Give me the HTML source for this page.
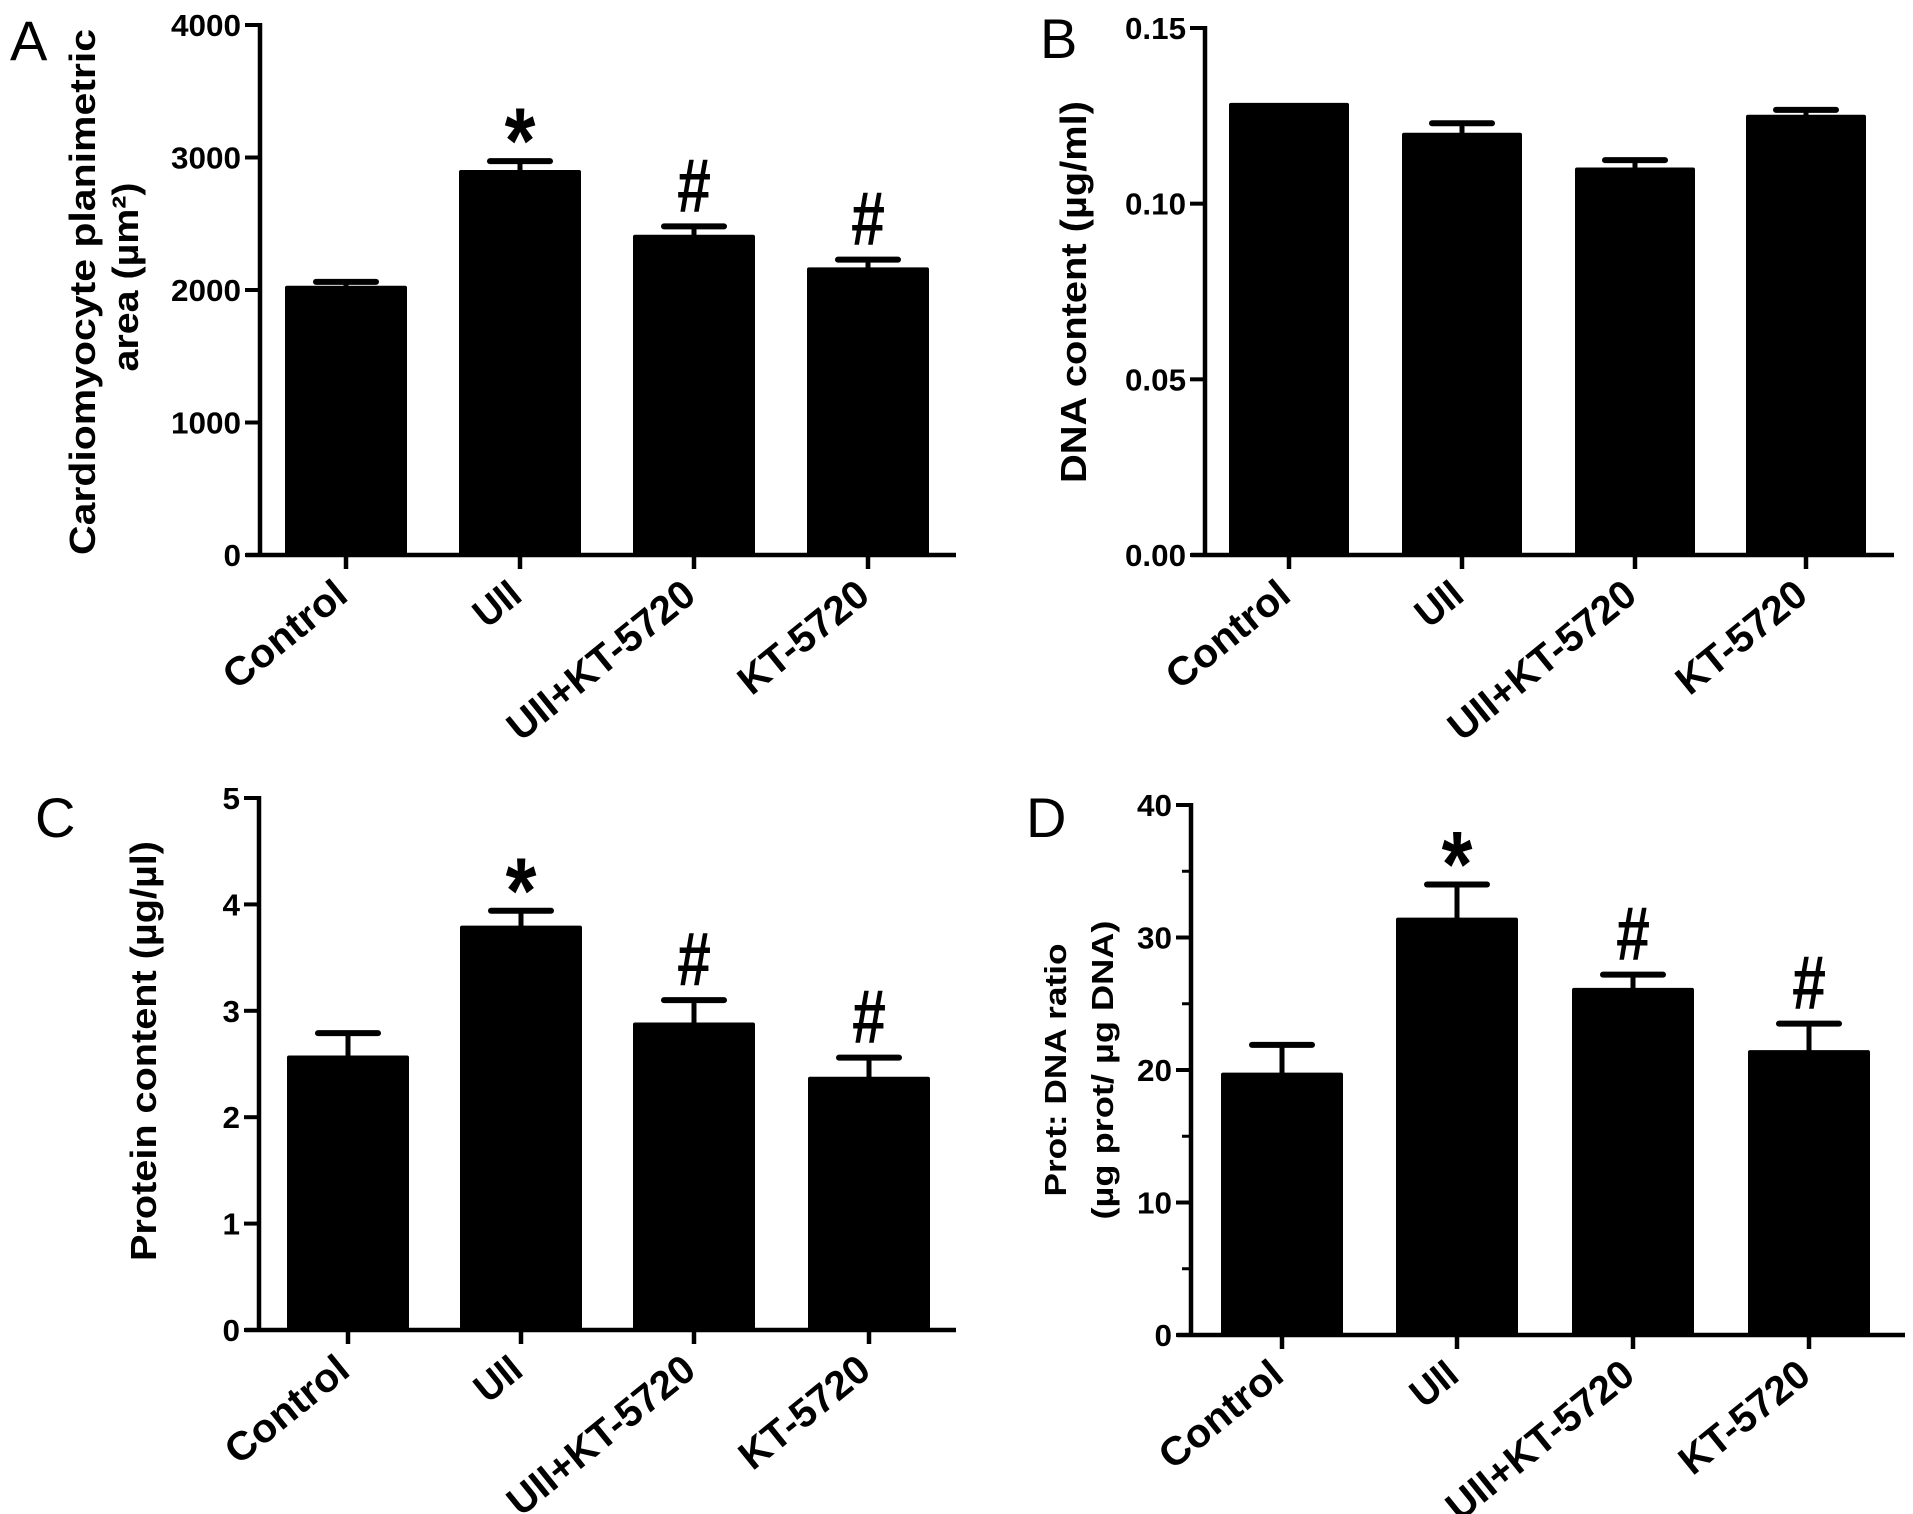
<!DOCTYPE html>
<html><head><meta charset="utf-8"><style>
html,body{margin:0;padding:0;background:#fff;}
svg{display:block;}
text{font-family:"Liberation Sans",Arial,Helvetica,sans-serif;fill:#000;}
</style></head><body>
<svg id="fig" xmlns="http://www.w3.org/2000/svg" width="1913" height="1514" viewBox="0 0 1913 1514" font-family="Liberation Sans, Arial, sans-serif"></svg>
<script>
const categories = ["Control", "UII", "UII+KT-5720", "KT-5720"];
const labelLengths = [146, 48, 228, 155];
const valuesA = [2032, 2906, 2417, 2171];
const errorsA = [29, 67, 63, 58];
const marksA = ["", "*", "#", "#"];
const ticksA = [0, 1000, 2000, 3000, 4000];
const tickLabelsA = ["0", "1000", "2000", "3000", "4000"];
const valuesB = [0.1287, 0.1202, 0.1103, 0.1253];
const errorsB = [0, 0.0027, 0.0021, 0.0014];
const marksB = ["", "", "", ""];
const ticksB = [0, 0.05, 0.10, 0.15];
const tickLabelsB = ["0.00", "0.05", "0.10", "0.15"];
const valuesC = [2.58, 3.80, 2.89, 2.38];
const errorsC = [0.21, 0.14, 0.21, 0.18];
const marksC = ["", "*", "#", "#"];
const ticksC = [0, 1, 2, 3, 4, 5];
const tickLabelsC = ["0", "1", "2", "3", "4", "5"];
const valuesD = [19.8, 31.5, 26.2, 21.5];
const errorsD = [2.1, 2.5, 1.0, 2.0];
const marksD = ["", "*", "#", "#"];
const ticksD = [0, 10, 20, 30, 40];
const tickLabelsD = ["0", "10", "20", "30", "40"];
const minorTicksD = [5, 15, 25, 35];

const NS = "http://www.w3.org/2000/svg";
const svg = document.getElementById("fig");
function mk(tag, attrs, parent){
  const e = document.createElementNS(NS, tag);
  for (const k in attrs) e.setAttribute(k, attrs[k]);
  (parent || svg).appendChild(e);
  return e;
}

function panel(cfg){
  const g = mk("g", {});
  
  
  const yScale = v => cfg.y0 - (v / cfg.max) * (cfg.y0 - cfg.yTop);
  const ax = cfg.axisX;
  const L = mk("text", {x: cfg.letterX, y: cfg.letterY, "font-size": 56}, g);
  L.textContent = cfg.id.toUpperCase();
  
  
  cfg.values.forEach((v, i) => {
    const cx = cfg.ticksX[i];
    const bw = cfg.barW;
    const top = yScale(v);
    const bar = mk("rect", {x: cx - bw/2, y: top, width: bw, height: cfg.y0 - top, fill: "#000", rx: 2}, g);
    
    
    const e = cfg.errors[i];
    const et = yScale(v + e);
    if (e > 0) {
      const eg = mk("g", {stroke: "#000", "stroke-linecap": "round"}, g);
      
      
      mk("line", {x1: cx, x2: cx, y1: top, y2: et, "stroke-width": 5}, eg);
      mk("line", {x1: cx - 30, x2: cx + 30, y1: et, y2: et, "stroke-width": 6}, eg);
    }
    const m = cfg.marks[i];
    if (m === "*") {
      const t = mk("text", {transform: `translate(${cx},${et + 12}) scale(1.1,1.3)`, "text-anchor": "middle", "font-size": 72, "font-weight": "bold"}, g);
      t.textContent = "*";
      
      
    } else if (m === "#") {
      const t = mk("text", {transform: `translate(${cx},${et - 15}) scale(0.8,1)`, "text-anchor": "middle", "font-size": 76, "font-weight": "bold"}, g);
      t.textContent = "#";
      
      
    }
  });
  const ya = mk("line", {x1: ax, x2: ax, y1: cfg.yTop - 2, y2: cfg.y0, stroke: "#000", "stroke-width": 4.5}, g);
  
  
  const xa = mk("line", {x1: cfg.axisX - 14, x2: cfg.xEnd, y1: cfg.y0, y2: cfg.y0, stroke: "#000", "stroke-width": 4.5}, g);
  
  
  cfg.ticks.forEach((t, i) => {
    const y = yScale(t);
    mk("line", {x1: cfg.axisX - 15, x2: ax, y1: y, y2: y, stroke: "#000", "stroke-width": 4}, g);
    const lab = mk("text", {x: cfg.axisX - 19, y: y + 11, "text-anchor": "end", "font-size": 31, "font-weight": "bold", textLength: cfg.tickLabels[i].length * 17.5 + (cfg.tickLabels[i].indexOf('.') >= 0 ? -9 : 0), lengthAdjust: "spacingAndGlyphs"}, g);
    lab.textContent = cfg.tickLabels[i];
    
    
  });
  (cfg.minor || []).forEach(t => {
    const y = yScale(t);
    mk("line", {x1: cfg.axisX - 9, x2: ax, y1: y, y2: y, stroke: "#000", "stroke-width": 3}, g);
  });
  categories.forEach((c, i) => {
    const cx = cfg.ticksX[i];
    mk("line", {x1: cx, x2: cx, y1: cfg.y0, y2: cfg.y0 + 14, stroke: "#000", "stroke-width": 4.5}, g);
    const lab = mk("text", {transform: `translate(${cx + 4},${cfg.y0 + 44}) rotate(-39)`, "text-anchor": "end", "font-size": 40, "font-weight": "bold", textLength: labelLengths[i], lengthAdjust: "spacingAndGlyphs"}, g);
    lab.textContent = c;
    
    
  });
  cfg.titles.forEach((tt, j) => {
    const t = mk("text", {transform: `translate(${tt.x},${tt.cy}) rotate(-90)`, "text-anchor": "middle", "font-size": tt.size, "font-weight": "bold", textLength: tt.len, lengthAdjust: "spacingAndGlyphs"}, g);
    t.textContent = tt.text;
    
    
  });
}

panel({id: "a", letterX: 10, letterY: 60, axisX: 260, y0: 555, yTop: 25, max: 4000, xEnd: 956,
  ticksX: [346, 520, 694, 868], barW: 122, values: valuesA, errors: errorsA, marks: marksA,
  ticks: ticksA, tickLabels: tickLabelsA,
  titles: [{text: "Cardiomyocyte  planimetric", x: 95, cy: 292, len: 526, size: 36},
           {text: "area (µm²)", x: 138, cy: 277, len: 189, size: 36}]});
panel({id: "b", letterX: 1040, letterY: 58, axisX: 1205, y0: 555, yTop: 28, max: 0.15, xEnd: 1894,
  ticksX: [1289, 1462, 1635, 1806], barW: 120, values: valuesB, errors: errorsB, marks: marksB,
  ticks: ticksB, tickLabels: tickLabelsB,
  titles: [{text: "DNA content (µg/ml)", x: 1086, cy: 292, len: 382, size: 36}]});
panel({id: "c", letterX: 35, letterY: 837, axisX: 259, y0: 1330, yTop: 798, max: 5, xEnd: 956,
  ticksX: [348, 521, 694, 869], barW: 122, values: valuesC, errors: errorsC, marks: marksC,
  ticks: ticksC, tickLabels: tickLabelsC,
  titles: [{text: "Protein content (µg/µl)", x: 156, cy: 1051, len: 420, size: 36}]});
panel({id: "d", letterX: 1026, letterY: 837, axisX: 1191, y0: 1335, yTop: 805, max: 40, xEnd: 1905,
  ticksX: [1282, 1457, 1633, 1809], barW: 122, values: valuesD, errors: errorsD, marks: marksD,
  ticks: ticksD, tickLabels: tickLabelsD, minor: minorTicksD,
  titles: [{text: "Prot: DNA ratio", x: 1066, cy: 1070, len: 253, size: 31},
           {text: "(µg prot/ µg DNA)", x: 1113, cy: 1070, len: 299, size: 31}]});
</script>
</body></html>
